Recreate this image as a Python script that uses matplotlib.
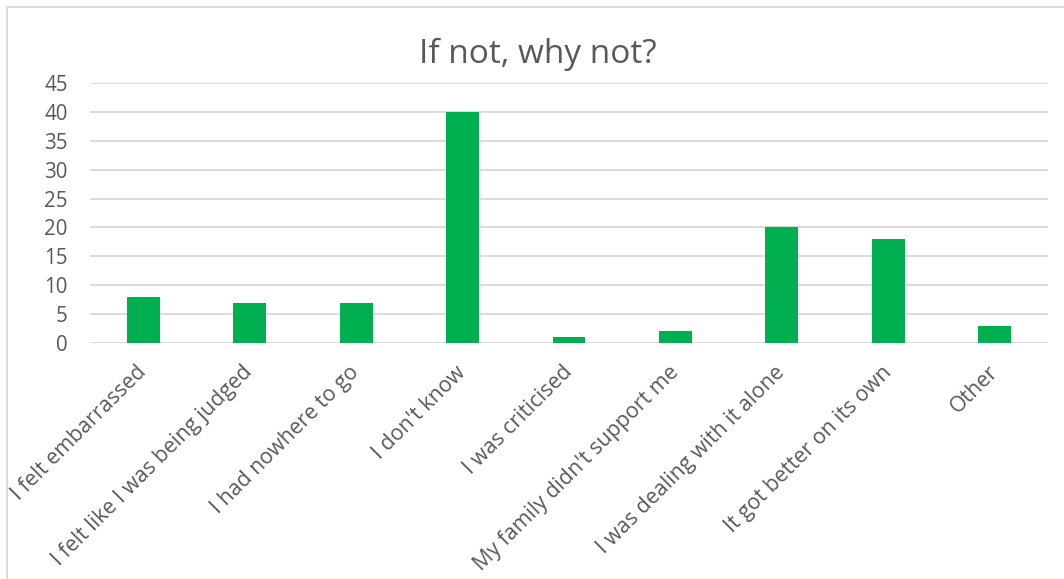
import matplotlib
matplotlib.use("Agg")
import matplotlib.pyplot as plt
from matplotlib.patches import Rectangle

categories = ["I felt embarrassed", "I felt like I was being judged", "I had nowhere to go",
              "I don't know", "I was criticised", "My family didn't support me",
              "I was dealing with it alone", "It got better on its own", "Other"]
counts = [8, 7, 7, 40, 1, 2, 20, 18, 3]
y_ticks = [0, 5, 10, 15, 20, 25, 30, 35, 40, 45]

plt.rcParams['font.family'] = ['Open Sans', 'DejaVu Sans']
txt = '#595959'

fig = plt.figure(figsize=(10.64, 5.79), dpi=100)
W, H = 1064, 579

# chart border (light grey)
fig.patches.append(Rectangle((7 / W, -0.05), 1.05, 1 - 7 / H + 0.05 - 0.0005,
                             transform=fig.transFigure, fill=False,
                             edgecolor='#D9D9D9', linewidth=1.3))

ax = fig.add_axes([90 / W, 1 - 343 / H, (1048 - 90) / W, (343 - 83) / H])
x = range(len(categories))
ax.bar(x, counts, width=0.31, color='#00B050', zorder=3)

ax.set_ylim(0, 45)
ax.set_xlim(-0.5, len(categories) - 0.5)
ax.set_yticks(y_ticks)
ax.yaxis.grid(True, color='#D9D9D9', linewidth=1.3, zorder=0)
for s in ax.spines.values():
    s.set_visible(False)
ax.tick_params(axis='y', length=0, colors=txt, labelsize=14.8, pad=16)
ax.set_xticks(list(x))
ax.set_xticklabels(categories, rotation=45, ha='right', va='center',
                   rotation_mode='anchor')
ax.tick_params(axis='x', length=0, colors=txt, labelsize=15.4, pad=19)

fig.text(0.505, 1 - 63 / H, "If not, why not?", ha='center', va='baseline',
         fontsize=24, color=txt)

fig.savefig("out.png", dpi=100)
